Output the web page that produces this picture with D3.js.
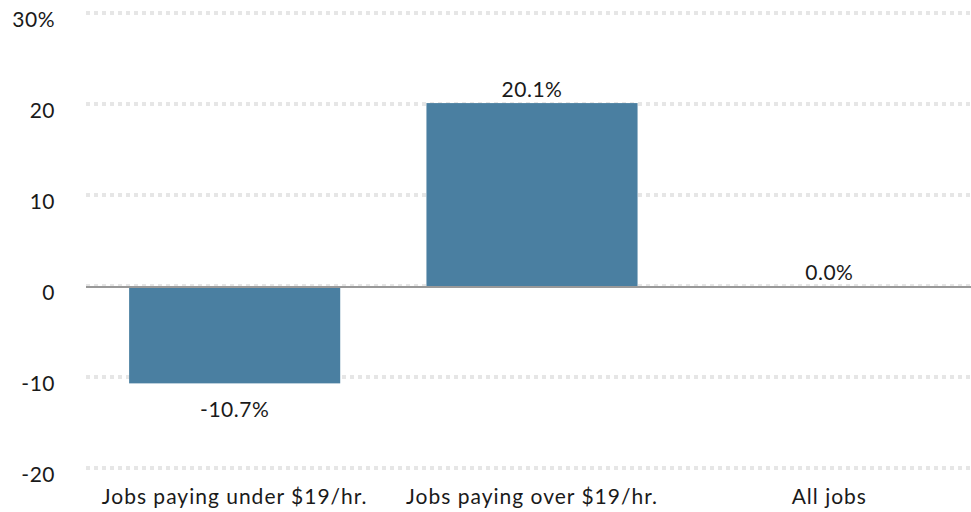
<!DOCTYPE html>
<html>
<head>
  <meta charset="utf-8">
  <script src="https://d3js.org/d3.v7.min.js"></script>
  <style>
    body { margin: 0; background: #fff; }
    text { font-family: Lato, "Open Sans", sans-serif; fill: #1a1a1a; }
  </style>
</head>
<body>
<script>
  // data
  var categories = ["Jobs paying under $19/hr.", "Jobs paying over $19/hr.", "All jobs"];
  var values = [-10.7, 20.1, 0.0];
  var yTicks = [-20, -10, 0, 10, 20, 30];

  var width = 971, height = 512;

  var svg = d3.select("body").append("svg")
      .attr("width", width)
      .attr("height", height);

  var x = d3.scaleBand()
      .domain(categories)
      .range([86, 978])
      .paddingInner(0.29)
      .paddingOuter(0.145);

  var y = d3.scaleLinear()
      .domain([-20, 30])
      .range([468, 13]);

  // dotted gridlines
  svg.selectAll("line.grid")
    .data(yTicks)
    .enter().append("line")
      .attr("class", "grid")
      .attr("x1", 86).attr("x2", width)
      .attr("y1", function(d) { return y(d); })
      .attr("y2", function(d) { return y(d); })
      .style("stroke", "#e6e6e6")
      .style("stroke-width", 4)
      .style("stroke-dasharray", "4,4");

  // y labels
  svg.selectAll("text.ylab")
    .data(yTicks)
    .enter().append("text")
      .attr("class", "ylab")
      .attr("x", 55)
      .attr("y", function(d) { return y(d) + 14; })
      .attr("text-anchor", "end")
      .style("font-size", "21px")
      .style("letter-spacing", "0.5px")
      .text(function(d) { return d === 30 ? d + "%" : d; });

  // bars
  svg.selectAll("rect.bar")
    .data(values)
    .enter().append("rect")
      .attr("class", "bar")
      .attr("x", function(d, i) { return x(categories[i]); })
      .attr("width", x.bandwidth())
      .attr("y", function(d) { return y(Math.max(0, d)); })
      .attr("height", function(d) { return Math.abs(y(d) - y(0)); })
      .style("fill", "#4a7fa1");

  // zero line
  svg.append("line")
      .attr("x1", 86).attr("x2", width)
      .attr("y1", y(0) + 1).attr("y2", y(0) + 1)
      .style("stroke", "#999")
      .style("stroke-width", 2);

  // value labels
  svg.selectAll("text.val")
    .data(values)
    .enter().append("text")
      .attr("class", "val")
      .attr("x", function(d, i) { return x(categories[i]) + x.bandwidth() / 2; })
      .attr("y", function(d) { return d < 0 ? y(d) + 34 : y(d) - 6; })
      .attr("text-anchor", "middle")
      .style("font-size", "21px")
      .style("letter-spacing", "0.5px")
      .text(function(d) { return d.toFixed(1) + "%"; });

  // category labels
  svg.selectAll("text.cat")
    .data(categories)
    .enter().append("text")
      .attr("class", "cat")
      .attr("x", function(d) { return x(d) + x.bandwidth() / 2; })
      .attr("y", 504)
      .attr("text-anchor", "middle")
      .style("font-size", "21px")
      .style("letter-spacing", "1px")
      .text(function(d) { return d; });
</script>
</body>
</html>
